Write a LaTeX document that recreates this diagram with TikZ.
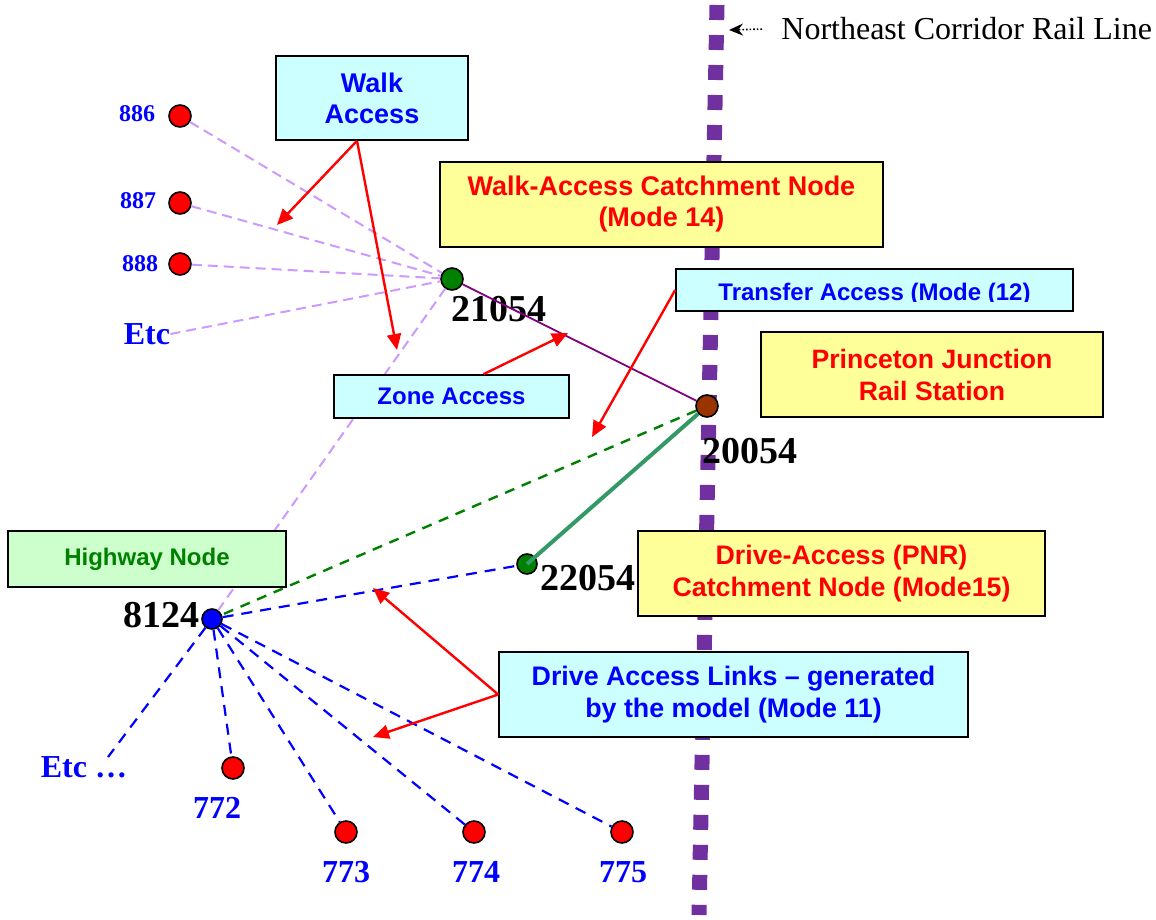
\documentclass[tikz,border=0pt]{standalone}
\usepackage{fontspec}
\setmainfont{Liberation Serif}
\setsansfont{Liberation Sans}
\usetikzlibrary{arrows.meta}

\definecolor{paleCyan}{HTML}{CCFFFF}
\definecolor{paleYellow}{HTML}{FFFF99}
\definecolor{paleGreen}{HTML}{CCFFCC}
\definecolor{darkGreen}{HTML}{008000}
\definecolor{lavender}{HTML}{CC99FF}
\definecolor{railPurple}{HTML}{7030A0}
\definecolor{linkPurple}{HTML}{800080}
\definecolor{nodeBrown}{HTML}{993300}
\definecolor{seaGreen}{HTML}{339966}

\tikzstyle{stop} = [circle, draw, line width=0.8pt, fill=red, minimum size=11pt, inner sep=0pt]
\tikzstyle{hub} = [circle, draw, line width=0.8pt, minimum size=11pt, inner sep=0pt]
\tikzstyle{zonelbl} = [text=blue, inner sep=0pt, font=\bfseries\fontsize{12}{14}\selectfont]
\tikzstyle{farlbl} = [text=blue, inner sep=0pt, font=\bfseries\fontsize{16}{19}\selectfont]
\tikzstyle{nodelbl} = [inner sep=0pt, font=\bfseries\fontsize{19}{22}\selectfont]
\tikzstyle{cyanbox} = [draw, line width=0.8pt, fill=paleCyan, text=blue, align=center, inner sep=0pt]
\tikzstyle{yellowbox} = [draw, line width=0.8pt, fill=paleYellow, text=red, align=center, inner sep=0pt]
\tikzstyle{rail} = [railPurple, line width=7.5pt, dash pattern=on 7.5pt off 7.5pt]
\tikzstyle{walklink} = [lavender, line width=1pt, dash pattern=on 5pt off 3pt]
\tikzstyle{drivelink} = [blue, line width=1.1pt, dash pattern=on 5.5pt off 4pt]
\tikzstyle{pointer} = [red, line width=1.2pt, -{Triangle[length=8pt,width=7pt]}]

\begin{document}
\begin{tikzpicture}[x=0.5pt,y=-0.5pt]
\useasboundingbox (0,0) rectangle (1156,920);

% rail line
\coordinate (railtop) at (717,5);
\coordinate (railbot) at (699,915);
\draw[rail] (railtop) -- (railbot);
\node[anchor=base west, inner sep=0pt, font=\fontsize{16}{18}\selectfont] (railnote) at (781,40) {Northeast Corridor Rail Line};
\coordinate (railtip) at (729,30);
\draw[line width=0.8pt, densely dotted, -{Stealth[length=7pt,width=6pt]}] ([xshift=-9.5pt]railnote.west) -- (railtip);

% zones and network nodes
\node[stop] (n886) at (180,116) {};
\node[stop] (n887) at (180,203) {};
\node[stop] (n888) at (180,264) {};
\node[hub, fill=darkGreen] (n21054) at (452,279) {};
\node[hub, fill=nodeBrown] (n20054) at (707,406) {};
\node[hub, fill=darkGreen, minimum size=10pt] (n22054) at (527,564) {};
\node[hub, fill=blue, minimum size=10pt] (n8124) at (212,619) {};
\node[stop] (n772) at (233,768) {};
\node[stop] (n773) at (346,832) {};
\node[stop] (n774) at (474,832) {};
\node[stop] (n775) at (622,832) {};

\node[zonelbl] (l886) at (137,114) {886};
\node[zonelbl] (l887) at (138,201) {887};
\node[zonelbl] (l888) at (140,264) {888};
\node[farlbl] (etcw) at (147,334) {Etc};
\node[farlbl] (etcd) at (84,767) {Etc \ldots};
\node[farlbl] (l772) at (217,808) {772};
\node[farlbl] (l773) at (346,872) {773};
\node[farlbl] (l774) at (476,872) {774};
\node[farlbl] (l775) at (623,872) {775};
\node[nodelbl] (l21054) at (499,309) {21054};
\node[nodelbl] (l20054) at (750,451) {20054};
\node[nodelbl] (l22054) at (588,578) {22054};
\node[nodelbl] (l8124) at (161,615) {8124};

% walk links
\draw[walklink] (n886) -- (n21054);
\draw[walklink] (n887) -- (n21054);
\draw[walklink] (n888) -- (n21054);
\draw[walklink] (etcw.east) -- (n21054);
\draw[walklink] (n21054) -- (n8124);

% transfer and drive links
\draw[linkPurple, line width=0.9pt] (n21054) -- (n20054);
\draw[darkGreen, line width=1.2pt, dash pattern=on 5pt off 4pt] (n20054) -- (n8124);
\draw[drivelink] (n8124) -- (n22054);
\draw[drivelink] (n8124) -- (n772);
\draw[drivelink] (n8124) -- (n773);
\draw[drivelink] (n8124) -- (n774);
\draw[drivelink] (n8124) -- (n775);
\coordinate (etcend) at (108,757);
\draw[drivelink] (n8124) -- (etcend);
\draw[seaGreen, line width=2pt] (n20054) -- (n22054.center);

% boxes
\node[cyanbox, minimum width=96pt, minimum height=42pt, font=\sffamily\bfseries\fontsize{13.5}{15.5}\selectfont] (walk) at (372,98) {Walk\\Access};
\node[yellowbox, minimum width=221.5pt, minimum height=42.5pt, font=\sffamily\bfseries\fontsize{13.5}{15.5}\selectfont] (walkcatch) at (661.5,204.5) {Walk-Access Catchment Node\\(Mode 14)};
\node[cyanbox, minimum width=198.5pt, minimum height=21pt] (transfer) at (874.5,290) {};
\begin{scope}
\clip (transfer.north west) rectangle ([yshift=5pt]transfer.south east);
\node[text=blue, inner sep=0pt, anchor=base, font=\sffamily\bfseries\fontsize{12}{14}\selectfont] (transfertxt) at (874.5,300) {Transfer Access (Mode (12)};
\end{scope}
\node[yellowbox, minimum width=171pt, minimum height=42.5pt, font=\sffamily\bfseries\fontsize{13.3}{16}\selectfont] (station) at (932,374.5) {Princeton Junction\\Rail Station};
\node[cyanbox, minimum width=117.5pt, minimum height=21.5pt, font=\sffamily\bfseries\fontsize{12}{14}\selectfont] (zone) at (451.5,396.5) {Zone Access};
\node[draw, line width=0.8pt, fill=paleGreen, text=darkGreen, inner sep=0pt, minimum width=139pt, minimum height=28pt, font=\sffamily\bfseries\fontsize{12}{14}\selectfont] (highway) at (147,559) {Highway Node};
\node[yellowbox, minimum width=203.5pt, minimum height=42.5pt, font=\sffamily\bfseries\fontsize{13.4}{16}\selectfont] (drivecatch) at (841.5,573.5) {Drive-Access (PNR)\\Catchment Node (Mode15)};
\node[cyanbox, minimum width=234.5pt, minimum height=42.5pt, font=\sffamily\bfseries\fontsize{13.4}{16}\selectfont] (links) at (733.5,694.5) {Drive Access Links -- generated\\by the model (Mode 11)};

% pointers
\coordinate (aw1) at (277,225);
\coordinate (aw2) at (397,350);
\coordinate (az) at (568,333);
\coordinate (at) at (592,437);
\coordinate (al1) at (373,588);
\coordinate (al2) at (373,737);
\draw[pointer] ([xshift=-7.5pt]walk.south) -- (aw1);
\draw[pointer] ([xshift=-7.5pt]walk.south) -- (aw2);
\draw[pointer] ([xshift=16pt]zone.north) -- (az);
\draw[pointer] (transfer.west) -- (at);
\draw[pointer] (links.west) -- (al1);
\draw[pointer] (links.west) -- (al2);
\end{tikzpicture}
\end{document}
